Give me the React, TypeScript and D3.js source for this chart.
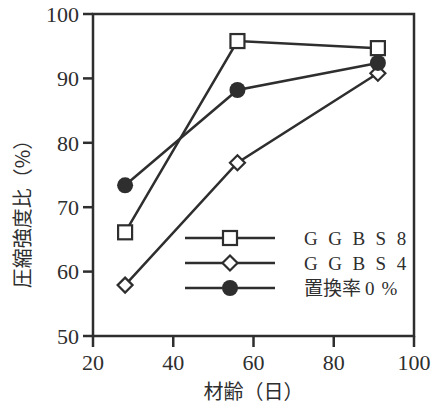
import React from "react";
import * as d3 from "d3";

const ages = [28, 56, 91];
const ggbs8 = [66.1, 95.8, 94.7];
const ggbs4 = [57.9, 76.9, 90.8];
const base0 = [73.4, 88.2, 92.4];
const xTicks = [20, 40, 60, 80, 100];
const yTicks = [50, 60, 70, 80, 90, 100];
const legendLabels = ["GGBS8", "GGBS4", "置換率0%"];

const W = 443;
const H = 408;
const left = 93;
const right = 414;
const top = 14;
const bottom = 336;
const ink = "#2e2e2e";
const serif = "'Liberation Serif', 'DejaVu Serif', serif";
const cjk = "'Noto Sans CJK JP', sans-serif";

export default function App() {
  const x = d3.scaleLinear().domain([20, 100]).range([left, right]);
  const y = d3.scaleLinear().domain([50, 100]).range([bottom, top]);
  const line = d3
    .line<number>()
    .x((_, i) => x(ages[i]))
    .y((d) => y(d));

  const square = (cx: number, cy: number, k: string) => (
    <rect key={k} x={cx - 7} y={cy - 7} width={14} height={14} fill="#fff" stroke={ink} strokeWidth={2.2} />
  );
  const diamond = (cx: number, cy: number, k: string) => (
    <path key={k} d={`M${cx},${cy - 7.5}L${cx + 7.5},${cy}L${cx},${cy + 7.5}L${cx - 7.5},${cy}Z`} fill="#fff" stroke={ink} strokeWidth={2.2} />
  );
  const dot = (cx: number, cy: number, k: string) => <circle key={k} cx={cx} cy={cy} r={8} fill={ink} />;

  const series = [
    { v: ggbs8, m: square },
    { v: ggbs4, m: diamond },
    { v: base0, m: dot },
  ];

  return (
    <svg width={W} height={H} style={{ position: "absolute", left: 0, top: 0 }}>
      <rect width={W} height={H} fill="#fff" />
      {/* frame */}
      <rect x={left} y={top} width={right - left} height={bottom - top} fill="none" stroke={ink} strokeWidth={2.5} />
      {/* y ticks */}
      {yTicks.map((t) => (
        <g key={`y${t}`}>
          <line x1={left - 10} x2={left} y1={y(t)} y2={y(t)} stroke={ink} strokeWidth={2.5} />
          <text x={left - 14} y={y(t)} dy="0.35em" textAnchor="end" fontFamily={serif} fontSize={22} fill={ink}>
            {t}
          </text>
        </g>
      ))}
      {/* x ticks */}
      {xTicks.map((t) => (
        <g key={`x${t}`}>
          <line x1={x(t)} x2={x(t)} y1={bottom} y2={bottom + 11} stroke={ink} strokeWidth={2.5} />
          <text x={x(t)} y={bottom + 34} textAnchor="middle" fontFamily={serif} fontSize={22} fill={ink}>
            {t}
          </text>
        </g>
      ))}
      {/* axis titles */}
      <text x={(left + right) / 2} y={399} textAnchor="middle" fontFamily={cjk} fontSize={20} fill={ink}>
        材齢（日）
      </text>
      <text
        transform={`translate(30, 209) rotate(-90)`}
        textAnchor="middle"
        fontFamily={cjk}
        fontSize={20}
        fill={ink}
      >
        圧縮強度比（%）
      </text>
      {/* series */}
      {series.map((s, si) => (
        <g key={si}>
          <path d={line(s.v) || ""} fill="none" stroke={ink} strokeWidth={2.5} />
          {s.v.map((v, i) => s.m(x(ages[i]), y(v), `${si}-${i}`))}
        </g>
      ))}
      {/* legend */}
      {series.map((s, i) => {
        const ly = 238 + i * 25;
        return (
          <g key={`lg${i}`}>
            <line x1={185} x2={275} y1={ly} y2={ly} stroke={ink} strokeWidth={2.5} />
            {s.m(230, ly, `lm${i}`)}
            {i < 2 ? (
              <text x={304} y={ly + 7} fontFamily={serif} fontSize={19} letterSpacing={10.5} fill={ink}>
                {legendLabels[i]}
              </text>
            ) : (
              <text x={304} y={ly + 7} fontSize={19} fill={ink}>
                <tspan fontFamily={cjk} fontSize={19}>置換率</tspan>
                <tspan fontFamily={serif} dx={4}>0</tspan>
                <tspan fontFamily={serif} dx={7}>%</tspan>
              </text>
            )}
          </g>
        );
      })}
    </svg>
  );
}
